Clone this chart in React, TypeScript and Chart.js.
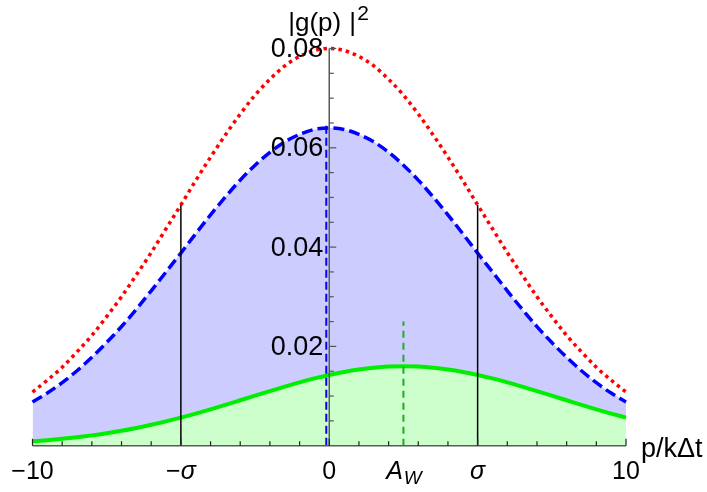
import React, { useEffect, useRef } from 'react';
import { Chart, registerables } from 'chart.js';

Chart.register(...registerables);

// ---- data ----
const xs = [
  -10, -9.5, -9, -8.5, -8, -7.5, -7, -6.5, -6, -5.5, -5, -4.5, -4, -3.5, -3, -2.5, -2, -1.5, -1, -0.5,
  0, 0.5, 1, 1.5, 2, 2.5, 3, 3.5, 4, 4.5, 5, 5.5, 6, 6.5, 7, 7.5, 8, 8.5, 9, 9.5, 10,
];
const redVals = [
  0.0108, 0.0132, 0.0158, 0.0189, 0.0222, 0.026, 0.03, 0.0344, 0.0389, 0.0437, 0.0485, 0.0534, 0.0581,
  0.0626, 0.0668, 0.0706, 0.0738, 0.0765, 0.0784, 0.0796, 0.08, 0.0796, 0.0784, 0.0765, 0.0738, 0.0706,
  0.0668, 0.0626, 0.0581, 0.0534, 0.0485, 0.0437, 0.0389, 0.0344, 0.03, 0.026, 0.0222, 0.0189, 0.0158,
  0.0132, 0.0108,
];
const blueVals = [
  0.0088, 0.0106, 0.0127, 0.0151, 0.0178, 0.0208, 0.024, 0.0275, 0.0312, 0.035, 0.0388, 0.0427, 0.0465,
  0.0501, 0.0535, 0.0565, 0.0591, 0.0612, 0.0627, 0.0637, 0.064, 0.0637, 0.0627, 0.0612, 0.0591, 0.0565,
  0.0535, 0.0501, 0.0465, 0.0427, 0.0388, 0.035, 0.0312, 0.0275, 0.024, 0.0208, 0.0178, 0.0151, 0.0127,
  0.0106, 0.0088,
];
const greenVals = [
  0.00089, 0.00112, 0.00139, 0.00171, 0.00208, 0.00252, 0.00302, 0.00358, 0.00421, 0.0049, 0.00565,
  0.00647, 0.00733, 0.00822, 0.00915, 0.01008, 0.011, 0.0119, 0.01276, 0.01355, 0.01425, 0.01486,
  0.01535, 0.01571, 0.01593, 0.016, 0.01593, 0.01571, 0.01535, 0.01486, 0.01425, 0.01355, 0.01276,
  0.0119, 0.011, 0.01008, 0.00915, 0.00822, 0.00733, 0.00647, 0.00565,
];
const sigmaXs = [-5, 5];
const sigmaTop = 0.0485;
const aWX = 2.5;
const aWTop = 0.025;
const peakX = -0.1;
const peakTop = 0.065;

const xTickValues = [-10, -5, 0, 2.5, 5, 10];
const xTickLabels = ['−10', '−σ', '0', 'A_W', 'σ', '10'];
const xMajorTicks = [-10, -5, 0, 5, 10];
const yTickValues = [0.02, 0.04, 0.06, 0.08];
const yTickLabels = ['0.02', '0.04', '0.06', '0.08'];
const xAxisTitle = 'p/kΔt';
const yAxisTitleMain = '|g(p)';
const yAxisTitleBar = '|';
const yAxisTitleSup = '2';

const FONT = "'Liberation Sans', Arial, Helvetica, sans-serif";

const pts = (vals: number[]) => xs.map((x, i) => ({ x, y: vals[i] }));
const vline = (x: number, top: number) => [
  { x, y: 0 },
  { x, y: top },
];

const axesPlugin = {
  id: 'customAxes',
  afterDatasetsDraw(chart: any) {
    const { ctx } = chart;
    const xs_ = chart.scales.x;
    const ys_ = chart.scales.y;
    const px = (v: number) => xs_.getPixelForValue(v);
    const py = (v: number) => ys_.getPixelForValue(v);
    const x0 = px(0);
    const y0 = py(0);
    ctx.save();
    ctx.strokeStyle = '#5a5a5a';
    ctx.lineWidth = 1.5;
    ctx.setLineDash([]);
    // x axis
    ctx.beginPath();
    ctx.moveTo(px(-10), y0);
    ctx.lineTo(px(10), y0);
    ctx.stroke();
    // y axis
    ctx.beginPath();
    ctx.moveTo(x0, y0);
    ctx.lineTo(x0, py(0.08));
    ctx.stroke();
    // x ticks (pointing up)
    ctx.lineWidth = 1.2;
    ctx.strokeStyle = '#222';
    for (let v = -10; v <= 10; v += 1) {
      const len = xMajorTicks.includes(v) ? 7 : 4.5;
      ctx.beginPath();
      ctx.moveTo(px(v), y0);
      ctx.lineTo(px(v), y0 - len);
      ctx.stroke();
    }
    // y ticks (pointing right)
    ctx.strokeStyle = '#555';
    for (let k = 1; k <= 16; k++) {
      const v = k * 0.005;
      const major = k % 4 === 0;
      ctx.beginPath();
      ctx.moveTo(x0, py(v));
      ctx.lineTo(x0 + (major ? 7 : 4.5), py(v));
      ctx.stroke();
    }
    // y labels
    ctx.fillStyle = '#000';
    ctx.font = `27px ${FONT}`;
    ctx.textAlign = 'right';
    ctx.textBaseline = 'middle';
    yTickValues.forEach((v, i) => {
      ctx.fillText(yTickLabels[i], x0 - 6, py(v) + 1);
    });
    // x labels
    ctx.textBaseline = 'alphabetic';
    const base = 479;
    xTickValues.forEach((v, i) => {
      const lab = xTickLabels[i];
      const cx = px(v);
      if (lab.includes('_')) {
        const [main, sub] = lab.split('_');
        ctx.font = `italic 25px ${FONT}`;
        const w1 = ctx.measureText(main).width;
        ctx.font = `italic 19px ${FONT}`;
        const w2 = ctx.measureText(sub).width;
        const start = cx - (w1 + w2) / 2;
        ctx.textAlign = 'left';
        ctx.font = `italic 25px ${FONT}`;
        ctx.fillText(main, start, base);
        ctx.font = `italic 19px ${FONT}`;
        ctx.fillText(sub, start + w1 + 1, base + 5);
      } else if (/σ/.test(lab)) {
        const parts = lab.split('σ');
        ctx.font = `25px ${FONT}`;
        const w1 = ctx.measureText(parts[0]).width;
        ctx.font = `italic 25px ${FONT}`;
        const w2 = ctx.measureText('σ').width;
        const start = cx - (w1 + w2) / 2;
        ctx.textAlign = 'left';
        ctx.font = `25px ${FONT}`;
        ctx.fillText(parts[0], start, base);
        ctx.font = `italic 25px ${FONT}`;
        ctx.fillText('σ', start + w1, base);
      } else {
        ctx.textAlign = 'center';
        ctx.font = `25px ${FONT}`;
        ctx.fillText(lab, cx, base);
      }
    });
    // axis titles
    ctx.textAlign = 'left';
    ctx.font = `27px ${FONT}`;
    ctx.fillText(xAxisTitle, px(10) + 15, 457);
    ctx.font = `26px ${FONT}`;
    ctx.fillText(yAxisTitleMain, x0 - 41, 31);
    ctx.fillText(yAxisTitleBar, x0 + 20, 31);
    ctx.font = `21px ${FONT}`;
    ctx.fillText(yAxisTitleSup, x0 + 28, 20);
    ctx.restore();
  },
};

export default function App() {
  const ref = useRef<HTMLCanvasElement | null>(null);
  useEffect(() => {
    if (!ref.current) return;
    const chart = new Chart(ref.current, {
      type: 'scatter',
      data: {
        datasets: [
          {
            label: 'red',
            data: pts(redVals),
            showLine: true,
            borderColor: '#ff0000',
            borderWidth: 3.5,
            borderDash: [3.5, 4],
            pointRadius: 0,
            tension: 0.4,
            cubicInterpolationMode: 'monotone',
            fill: false,
            clip: false,
            order: 0,
          } as any,
          {
            label: 'sigma-',
            data: vline(sigmaXs[0], sigmaTop),
            showLine: true,
            borderColor: '#000',
            borderWidth: 1.5,
            pointRadius: 0,
            fill: false,
            clip: false,
            order: 1,
          },
          {
            label: 'sigma+',
            data: vline(sigmaXs[1], sigmaTop),
            showLine: true,
            borderColor: '#000',
            borderWidth: 1.5,
            pointRadius: 0,
            fill: false,
            clip: false,
            order: 1,
          },
          {
            label: 'aW',
            data: vline(aWX, aWTop),
            showLine: true,
            borderColor: '#22aa22',
            borderWidth: 2,
            borderDash: [7, 5],
            pointRadius: 0,
            fill: false,
            clip: false,
            order: 1,
          },
          {
            label: 'peak',
            data: vline(peakX, peakTop),
            showLine: true,
            borderColor: '#0000ff',
            borderWidth: 2,
            borderDash: [8, 4],
            pointRadius: 0,
            fill: false,
            clip: false,
            order: 1,
          },
          {
            label: 'green',
            data: pts(greenVals),
            showLine: true,
            borderColor: '#00ee00',
            backgroundColor: 'rgb(204,255,204)',
            borderWidth: 4,
            pointRadius: 0,
            tension: 0.4,
            cubicInterpolationMode: 'monotone',
            fill: 'origin',
            clip: false,
            order: 2,
          } as any,
          {
            label: 'blue',
            data: pts(blueVals),
            showLine: true,
            borderColor: '#0000ff',
            backgroundColor: 'rgb(204,204,255)',
            borderWidth: 3.5,
            borderDash: [11, 5],
            pointRadius: 0,
            tension: 0.4,
            cubicInterpolationMode: 'monotone',
            fill: 'origin',
            clip: false,
            order: 3,
          } as any,
        ],
      },
      options: {
        animation: false,
        responsive: false,
        devicePixelRatio: 1,
        layout: { padding: { left: 32.5, right: 81, top: 48.5, bottom: 46.3 } },
        plugins: { legend: { display: false }, tooltip: { enabled: false } },
        scales: {
          x: { type: 'linear', min: -10, max: 10, display: false },
          y: { type: 'linear', min: 0, max: 0.08, display: false },
        },
      },
      plugins: [axesPlugin],
    });
    return () => chart.destroy();
  }, []);
  return (
    <div style={{ position: 'fixed', left: 0, top: 0, width: 707, height: 492, background: '#fff' }}>
      <canvas ref={ref} width={707} height={492} style={{ display: 'block' }} />
    </div>
  );
}
